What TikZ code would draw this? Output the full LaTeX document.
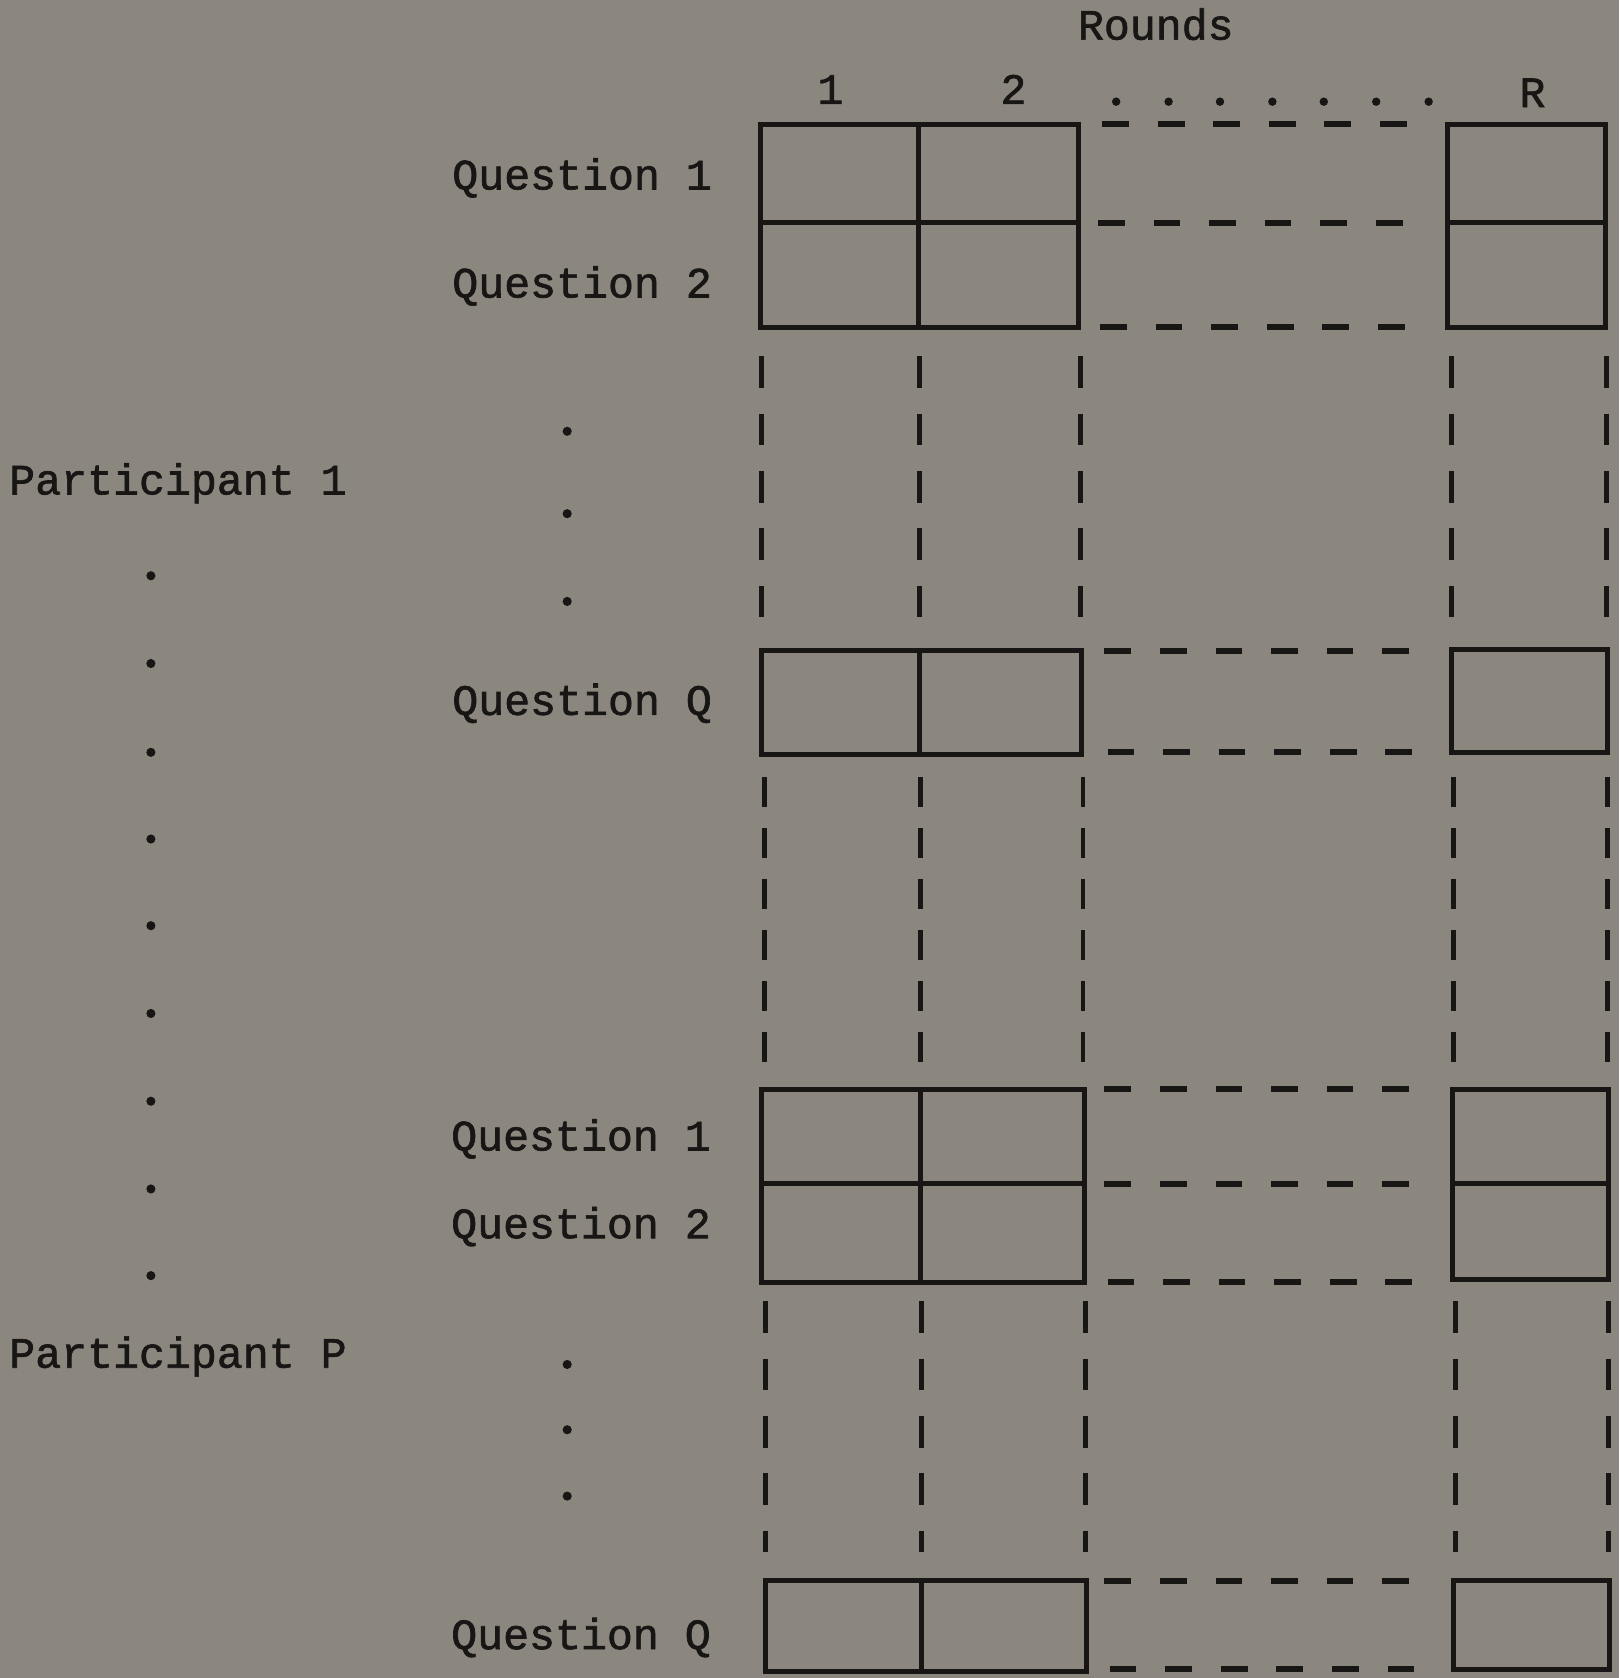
\documentclass[tikz,border=0pt]{standalone}
\usepackage{fontspec}
\setmonofont{Liberation Mono}[AutoFakeBold=1.5]
\definecolor{paper}{RGB}{139,135,127}
\definecolor{ink}{RGB}{24,22,20}

\begin{document}
\begin{tikzpicture}[x=0.0107cm, y=-0.0107cm,
  every node/.style={font=\ttfamily\bfseries\fontsize{12.3}{14}\selectfont, text=ink, inner sep=0pt},
  lbl/.style={anchor=base west},
  hdr/.style={anchor=base},
  cell/.style={draw=ink, line width=1.4pt},
  hgap/.style={draw=ink, line width=1.7pt, dash pattern=on 7.6pt off 8.2pt},
  vgap/.style={draw=ink, line width=1.4pt, dash pattern=on 9pt off 7.3pt},
  vgaptight/.style={vgap, dash pattern=on 8.5pt off 6pt}]
\fill[paper] (0,0) rectangle (1513,1568);
\useasboundingbox (0,0) rectangle (1513,1568);

% headings
\node[hdr] (rounds) at (1080,37) {Rounds};
\node[hdr] (r1) at (776,97) {1};
\node[hdr] (r2) at (947,97) {2};
\node[hdr] (rR) at (1432,100) {R};
\fill[ink] (1043,95) circle (1.2pt) (1092,95) circle (1.2pt) (1140,95) circle (1.2pt)
  (1189,95) circle (1.2pt) (1237,95) circle (1.2pt) (1286,95) circle (1.2pt) (1335,95) circle (1.2pt);

% row labels
\node[lbl] (pone) at (8,462) {Participant 1};
\node[lbl] (pP) at (8,1278) {Participant P};
\node[lbl] (q1a) at (422,177) {Question 1};
\node[lbl] (q2a) at (422,278) {Question 2};
\node[lbl] (qQa) at (422,668) {Question Q};
\node[lbl] (q1b) at (421,1075) {Question 1};
\node[lbl] (q2b) at (421,1157) {Question 2};
\node[lbl] (qQb) at (421,1541) {Question Q};

% dots between participants and questions
\fill[ink] (141,538) circle (1.3pt) (141,620) circle (1.3pt) (141,703) circle (1.3pt)
  (141,784) circle (1.3pt) (141,865) circle (1.3pt) (141,947) circle (1.3pt)
  (141,1029) circle (1.3pt) (141,1111) circle (1.3pt) (141,1192) circle (1.3pt);
\fill[ink] (530,403) circle (1.3pt) (530,480) circle (1.3pt) (530,562) circle (1.3pt)
  (530,1275) circle (1.3pt) (530,1336) circle (1.3pt) (530,1398) circle (1.3pt);

% participant 1, questions 1 and 2
\draw[cell] (711,116) rectangle (1008,306);
\draw[cell] (858,116) -- (858,306);
\draw[cell] (711,208) -- (1008,208);
\draw[cell] (1353,116) rectangle (1500,306);
\draw[cell] (1353,208) -- (1500,208);
\draw[hgap] (1030,116) -- (1340,116);
\draw[hgap] (1026,208) -- (1330,208);
\draw[hgap] (1028,306) -- (1330,306);

\draw[vgap] (712,333) -- (712,585);
\draw[vgap] (859,333) -- (859,585);
\draw[vgap] (1010,333) -- (1010,585);
\draw[vgap] (1356,333) -- (1356,585);
\draw[vgap] (1501,333) -- (1501,585);

% participant 1, question Q
\draw[cell] (712,608) rectangle (1011,705);
\draw[cell] (859,608) -- (859,705);
\draw[cell] (1356,607) rectangle (1502,703);
\draw[hgap] (1032,608) -- (1335,608);
\draw[hgap] (1035,703) -- (1330,703);

\draw[vgaptight] (714,726) -- (714,993);
\draw[vgaptight] (860,726) -- (860,993);
\draw[vgaptight] (1012,726) -- (1012,993);
\draw[vgaptight] (1358,726) -- (1358,993);
\draw[vgaptight] (1502,726) -- (1502,993);

% participant P, questions 1 and 2
\draw[cell] (712,1018) rectangle (1013,1198);
\draw[cell] (860,1018) -- (860,1198);
\draw[cell] (712,1106) -- (1013,1106);
\draw[cell] (1357,1018) rectangle (1503,1196);
\draw[cell] (1357,1106) -- (1503,1106);
\draw[hgap] (1032,1018) -- (1340,1018);
\draw[hgap] (1032,1106) -- (1330,1106);
\draw[hgap] (1035,1198) -- (1332,1198);

\draw[vgap] (715,1216) -- (715,1450);
\draw[vgap] (861,1216) -- (861,1450);
\draw[vgap] (1014,1216) -- (1014,1450);
\draw[vgap] (1360,1216) -- (1360,1450);
\draw[vgap] (1503,1216) -- (1503,1450);

% participant P, question Q
\draw[cell] (715,1477) rectangle (1015,1562);
\draw[cell] (861,1477) -- (861,1562);
\draw[cell] (1358,1477) rectangle (1504,1560);
\draw[hgap] (1032,1477) -- (1335,1477);
\draw[hgap] (1037,1560) -- (1328,1560);
\end{tikzpicture}
\end{document}
